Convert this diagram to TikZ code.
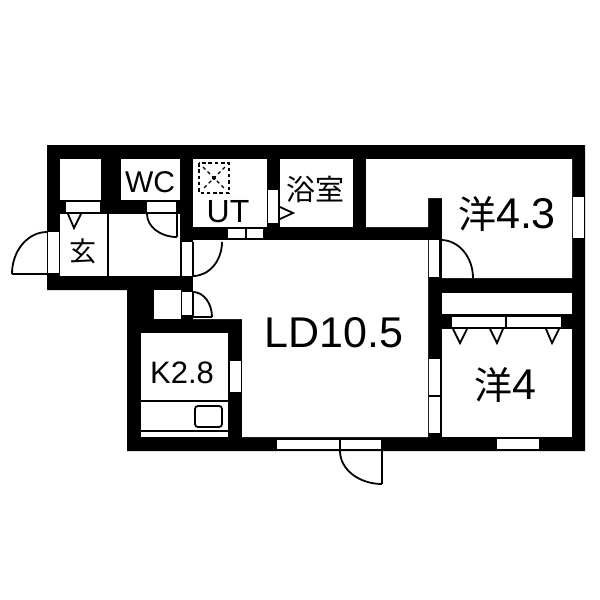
\documentclass[tikz,border=0pt]{standalone}
\usepackage{fontspec}
\setmainfont{Liberation Sans}
\newfontfamily\jpfont{Noto Sans CJK JP}
\usetikzlibrary{calc}
\tikzset{
    room/.style={fill=white,draw=none},
    window/.style={fill=white,draw=none},
    thinline/.style={line width=1.2pt},
    doorline/.style={line width=1.8pt},
    hinge/.style={fill=white,draw=black,line width=1.8pt},
    label/.style={inner sep=0pt,black}
}

\begin{document}
\begin{tikzpicture}[x=1pt,y=-1pt]
    \useasboundingbox[fill=white] (0,0) rectangle (600,600);
    \fill[black] (47,145) -- (585,145) -- (585,451) -- (127,451) -- (127,290) -- (47,290) -- cycle;

    \fill[room] (60,159) rectangle (101,200);
    \fill[room] (121,159) rectangle (180,200);
    \fill[room] (193,159) rectangle (267,227);
    \fill[room] (280,159) rectangle (353,227);
    \fill[room] (366,159) -- (572,159) -- (572,278) -- (442,278) -- (442,198) -- (428,198) -- (428,227) -- (366,227) -- cycle;
    \fill[room] (60,214) rectangle (180,276);
    \fill[room] (154,290) rectangle (181,319);
    \fill[room] (193,240) -- (428,240) -- (428,437) -- (242,437) -- (242,319) -- (193,319) -- cycle;
    \fill[room] (141,333) rectangle (228,437);
    \fill[room] (442,293) rectangle (572,314);
    \fill[room] (442,329) rectangle (572,437);

    \fill[window] (66,202) rectangle (100,212);
    \fill[window] (147,202) rectangle (176,212);
    \fill[window] (228,229) rectangle (263,238);
    \fill[window] (268,190) rectangle (278,223);
    \fill[window] (573,197) rectangle (584,238);
    \fill[window] (48,232) rectangle (59,273);
    \fill[window] (182,242) rectangle (192,276);
    \fill[window] (182,292) rectangle (192,315);
    \fill[window] (429,240) rectangle (439,277);
    \fill[window] (230,361) rectangle (241,392);
    \fill[window] (277,440) rectangle (381,450);
    \fill[window] (429,359) rectangle (440,433);
    \fill[window] (497,439) rectangle (539,449);
    \fill[window] (452,317) rectangle (561,327);

    \draw[thinline] (246,229) -- (246,238);
    \draw[thinline] (340,440) -- (340,451);
    \draw[thinline] (429,396) -- (440,396);
    \draw[thinline] (506,317) -- (506,328);
    \draw[thinline] (442,328) -- (572,328);
    \draw[thinline] (108,214) -- (108,276);
    \draw[thinline] (141,401) -- (228,401);
    \draw[line width=1.8pt] (141,431) -- (228,431);
    \draw[doorline,rounded corners=3pt] (195,406) rectangle (222,427);

    \draw[doorline] (12,274) -- (47,274);
    \draw[doorline] (47,232) arc[start angle=90,end angle=180,x radius=35pt,y radius=42pt];
    \draw[doorline] (177,214) -- (177,237);
    \draw[doorline] (147,214) arc[start angle=180,end angle=270,x radius=30pt,y radius=23pt];
    \draw[doorline] (193,242) -- (193,276);
    \draw[doorline] (222,242) arc[start angle=0,end angle=-90,x radius=29pt,y radius=34pt];
    \draw[doorline] (193,292) -- (193,317) -- (212,317);
    \draw[doorline] (193,292) arc[start angle=90,end angle=0,x radius=19pt,y radius=25pt];
    \draw[doorline] (441,240) -- (441,278);
    \draw[doorline] (441,240) arc[start angle=90,end angle=0,x radius=32pt,y radius=38pt];
    \draw[doorline] (277,450) -- (382,450) -- (382,484);
    \draw[doorline] (340,451) arc[start angle=180,end angle=270,x radius=42pt,y radius=33pt];

    \draw[hinge] (68,214) -- (74,228) -- (81,214);
    \draw[hinge] (280,207) -- (293,213) -- (280,219);
    \draw[hinge] (453,329) -- (460,343) -- (467,329);
    \draw[hinge] (490,329) -- (497,343) -- (503,329);
    \draw[hinge] (546,329) -- (552,343) -- (559,329);

    \draw[line width=1.8pt,dash pattern=on 3.5pt off 2.8pt] (199,163) rectangle (229,193);
    \draw[thinline,dash pattern=on 3.5pt off 3pt] (203,167) -- (225,189);
    \draw[thinline,dash pattern=on 3.5pt off 3pt] (225,167) -- (203,189);
    \fill[black] (214,178) circle (2pt);

    \node[label,font=\fontsize{30}{30}\selectfont] (wc) at (150,182) {WC};
    \node[label,font=\fontsize{32}{32}\selectfont] (ut) at (228,212) {UT};
    \node[label,font=\fontsize{27}{27}\jpfont] (genkan) at (83,251) {玄};
    \node[label,font=\fontsize{29}{29}\jpfont] (bath) at (315,189) {浴室};
    \node[label,font=\fontsize{43}{43}\selectfont] (western) at (507,214) {{\fontsize{38}{38}\jpfont 洋}4.3};
    \node[label,font=\fontsize{43}{43}\selectfont] (ld) at (334,333) {LD10.5};
    \node[label,font=\fontsize{43}{43}\selectfont] (westernb) at (505,385) {{\fontsize{38}{38}\jpfont 洋}4};
    \node[label,font=\fontsize{31}{31}\selectfont] (kitchen) at (182,373) {K2.8};
\end{tikzpicture}
\end{document}
